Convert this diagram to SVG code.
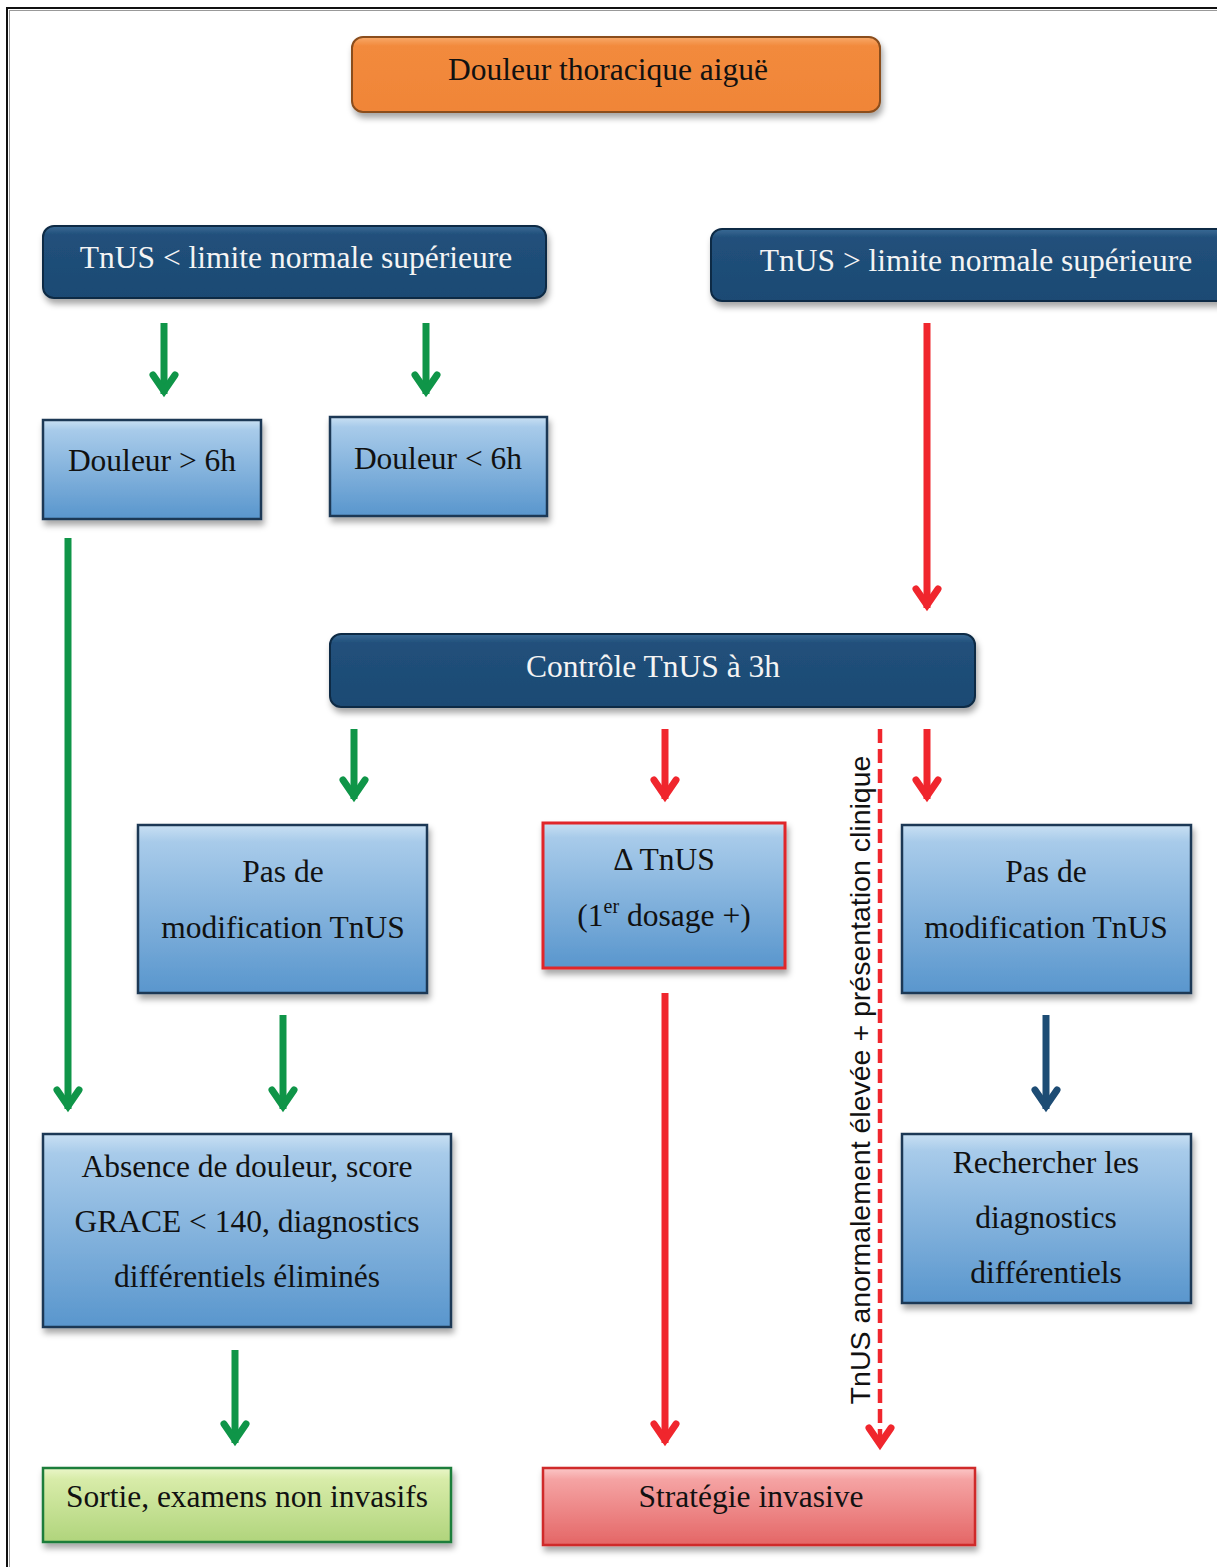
<svg xmlns="http://www.w3.org/2000/svg" width="1217" height="1567" viewBox="0 0 1217 1567">
<defs>
<style>
.t{font-family:"Liberation Serif","Times New Roman",serif;font-size:31.5px;text-anchor:middle;fill:#111}
.w{fill:#f4f4f4}
.dark{fill:url(#gDark);stroke:#0e2a44;stroke-width:2}
.lb{fill:url(#gBlue);stroke:#1d3954;stroke-width:2.5}
.g{stroke:#0f9548;stroke-width:7;fill:none}
.r{stroke:#f0262d;stroke-width:7;fill:none}
.b{stroke:#1d4c74;stroke-width:7;fill:none}
</style>
<linearGradient id="gDark" x1="0" y1="0" x2="0" y2="1">
<stop offset="0" stop-color="#3a6a95"/><stop offset="0.12" stop-color="#21507b"/><stop offset="1" stop-color="#1c4a73"/>
</linearGradient>
<linearGradient id="gBlue" x1="0" y1="0" x2="0" y2="1">
<stop offset="0" stop-color="#c9e0f3"/><stop offset="0.1" stop-color="#a8cbea"/><stop offset="1" stop-color="#5996cd"/>
</linearGradient>
<linearGradient id="gOr" x1="0" y1="0" x2="0" y2="1">
<stop offset="0" stop-color="#f8a96a"/><stop offset="0.12" stop-color="#f28a3c"/><stop offset="1" stop-color="#f08538"/>
</linearGradient>
<linearGradient id="gGr" x1="0" y1="0" x2="0" y2="1">
<stop offset="0" stop-color="#eaf6c9"/><stop offset="0.15" stop-color="#d8eca9"/><stop offset="1" stop-color="#b0d47c"/>
</linearGradient>
<linearGradient id="gRd" x1="0" y1="0" x2="0" y2="1">
<stop offset="0" stop-color="#fbc7c7"/><stop offset="0.15" stop-color="#f5a3a3"/><stop offset="1" stop-color="#e46666"/>
</linearGradient>
<filter id="sh" x="-5%" y="-10%" width="110%" height="130%">
<feDropShadow dx="2" dy="5" stdDeviation="3" flood-color="#000" flood-opacity="0.35"/>
</filter>
<marker id="mg" markerUnits="userSpaceOnUse" viewBox="-14 -24 28 28" markerWidth="28" markerHeight="28" refX="0" refY="0" orient="auto" overflow="visible">
<path d="M-11,-19 L0,-3 L11,-19" fill="none" stroke="#0f9548" stroke-width="7" stroke-linecap="round" transform="rotate(-90)"/>
</marker>
<marker id="mr" markerUnits="userSpaceOnUse" viewBox="-14 -24 28 28" markerWidth="28" markerHeight="28" refX="0" refY="0" orient="auto" overflow="visible">
<path d="M-11,-19 L0,-3 L11,-19" fill="none" stroke="#f0262d" stroke-width="7" stroke-linecap="round" transform="rotate(-90)"/>
</marker>
<marker id="mb" markerUnits="userSpaceOnUse" viewBox="-14 -24 28 28" markerWidth="28" markerHeight="28" refX="0" refY="0" orient="auto" overflow="visible">
<path d="M-11,-19 L0,-3 L11,-19" fill="none" stroke="#1d4c74" stroke-width="7" stroke-linecap="round" transform="rotate(-90)"/>
</marker>
</defs>
<rect x="0" y="0" width="1217" height="1567" fill="#fff"/>
<rect x="7" y="8" width="1300" height="1650" fill="none" stroke="#111" stroke-width="2"/>
<rect x="9.5" y="10.5" width="1300" height="1650" fill="none" stroke="#999" stroke-width="1"/>

<g id="connectors">
<line class="g" x1="164" y1="323" x2="164" y2="394" marker-end="url(#mg)"/>
<line class="g" x1="426" y1="323" x2="426" y2="394" marker-end="url(#mg)"/>
<line class="r" x1="927" y1="323" x2="927" y2="608" marker-end="url(#mr)"/>
<line class="g" x1="68" y1="538" x2="68" y2="1109" marker-end="url(#mg)"/>
<line class="g" x1="354" y1="729" x2="354" y2="799" marker-end="url(#mg)"/>
<line class="r" x1="665" y1="729" x2="665" y2="799" marker-end="url(#mr)"/>
<line class="r" x1="927" y1="729" x2="927" y2="799" marker-end="url(#mr)"/>
<line x1="880" y1="729" x2="880" y2="1447" stroke="#f0262d" stroke-width="4.5" stroke-dasharray="14 6" marker-end="url(#mr)"/>
<line class="g" x1="283" y1="1015" x2="283" y2="1109" marker-end="url(#mg)"/>
<line class="r" x1="665" y1="993" x2="665" y2="1443" marker-end="url(#mr)"/>
<line class="b" x1="1046" y1="1015" x2="1046" y2="1109" marker-end="url(#mb)"/>
<line class="g" x1="235" y1="1350" x2="235" y2="1443" marker-end="url(#mg)"/>
<text x="0" y="0" transform="translate(870,1080) rotate(-90)" font-family="'Liberation Sans',Arial,sans-serif" font-size="28.5" text-anchor="middle" fill="#111">TnUS anormalement élevée + présentation clinique</text>
</g>

<g id="n-douleur">
<rect x="352" y="37" width="528" height="75" rx="11" fill="url(#gOr)" stroke="#8a4d1c" stroke-width="2" filter="url(#sh)"/>
<text class="t" x="608" y="80">Douleur thoracique aiguë</text>
</g>
<g id="n-inf">
<rect class="dark" x="43" y="226" width="503" height="72" rx="11" filter="url(#sh)"/>
<text class="t w" x="296" y="268">TnUS &lt; limite normale supérieure</text>
</g>
<g id="n-sup">
<rect class="dark" x="711" y="229" width="540" height="72" rx="11" filter="url(#sh)"/>
<text class="t w" x="976" y="271">TnUS &gt; limite normale supérieure</text>
</g>
<g id="n-gt6">
<rect class="lb" x="43" y="420" width="218" height="99" filter="url(#sh)"/>
<text class="t" x="152" y="471">Douleur &gt; 6h</text>
</g>
<g id="n-lt6">
<rect class="lb" x="330" y="417" width="217" height="99" filter="url(#sh)"/>
<text class="t" x="438" y="469">Douleur &lt; 6h</text>
</g>
<g id="n-controle">
<rect class="dark" x="330" y="634" width="645" height="73" rx="11" filter="url(#sh)"/>
<text class="t w" x="653" y="677">Contrôle TnUS à 3h</text>
</g>
<g id="n-pasmod1">
<rect class="lb" x="138" y="825" width="289" height="168" filter="url(#sh)"/>
<text class="t" x="283" y="882">Pas de</text>
<text class="t" x="283" y="938">modification TnUS</text>
</g>
<g id="n-delta">
<rect x="543" y="823" width="242" height="145" fill="url(#gBlue)" stroke="#e0262b" stroke-width="3" filter="url(#sh)"/>
<text class="t" x="664" y="870">Δ TnUS</text>
<text class="t" x="664" y="926">(1<tspan font-size="20" dy="-13">er</tspan><tspan dy="13"> dosage +)</tspan></text>
</g>
<g id="n-pasmod2">
<rect class="lb" x="902" y="825" width="289" height="168" filter="url(#sh)"/>
<text class="t" x="1046" y="882">Pas de</text>
<text class="t" x="1046" y="938">modification TnUS</text>
</g>
<g id="n-absence">
<rect class="lb" x="43" y="1134" width="408" height="193" filter="url(#sh)"/>
<text class="t" x="247" y="1177">Absence de douleur, score</text>
<text class="t" x="247" y="1232">GRACE &lt; 140, diagnostics</text>
<text class="t" x="247" y="1287">différentiels éliminés</text>
</g>
<g id="n-rechercher">
<rect class="lb" x="902" y="1134" width="289" height="169" filter="url(#sh)"/>
<text class="t" x="1046" y="1173">Rechercher les</text>
<text class="t" x="1046" y="1228">diagnostics</text>
<text class="t" x="1046" y="1283">différentiels</text>
</g>
<g id="n-sortie">
<rect x="43" y="1468" width="408" height="74" fill="url(#gGr)" stroke="#1b7d3a" stroke-width="2.5" filter="url(#sh)"/>
<text class="t" x="247" y="1507">Sortie, examens non invasifs</text>
</g>
<g id="n-strategie">
<rect x="543" y="1468" width="432" height="77" fill="url(#gRd)" stroke="#cf2a2a" stroke-width="2.5" filter="url(#sh)"/>
<text class="t" x="751" y="1507">Stratégie invasive</text>
</g>
</svg>
